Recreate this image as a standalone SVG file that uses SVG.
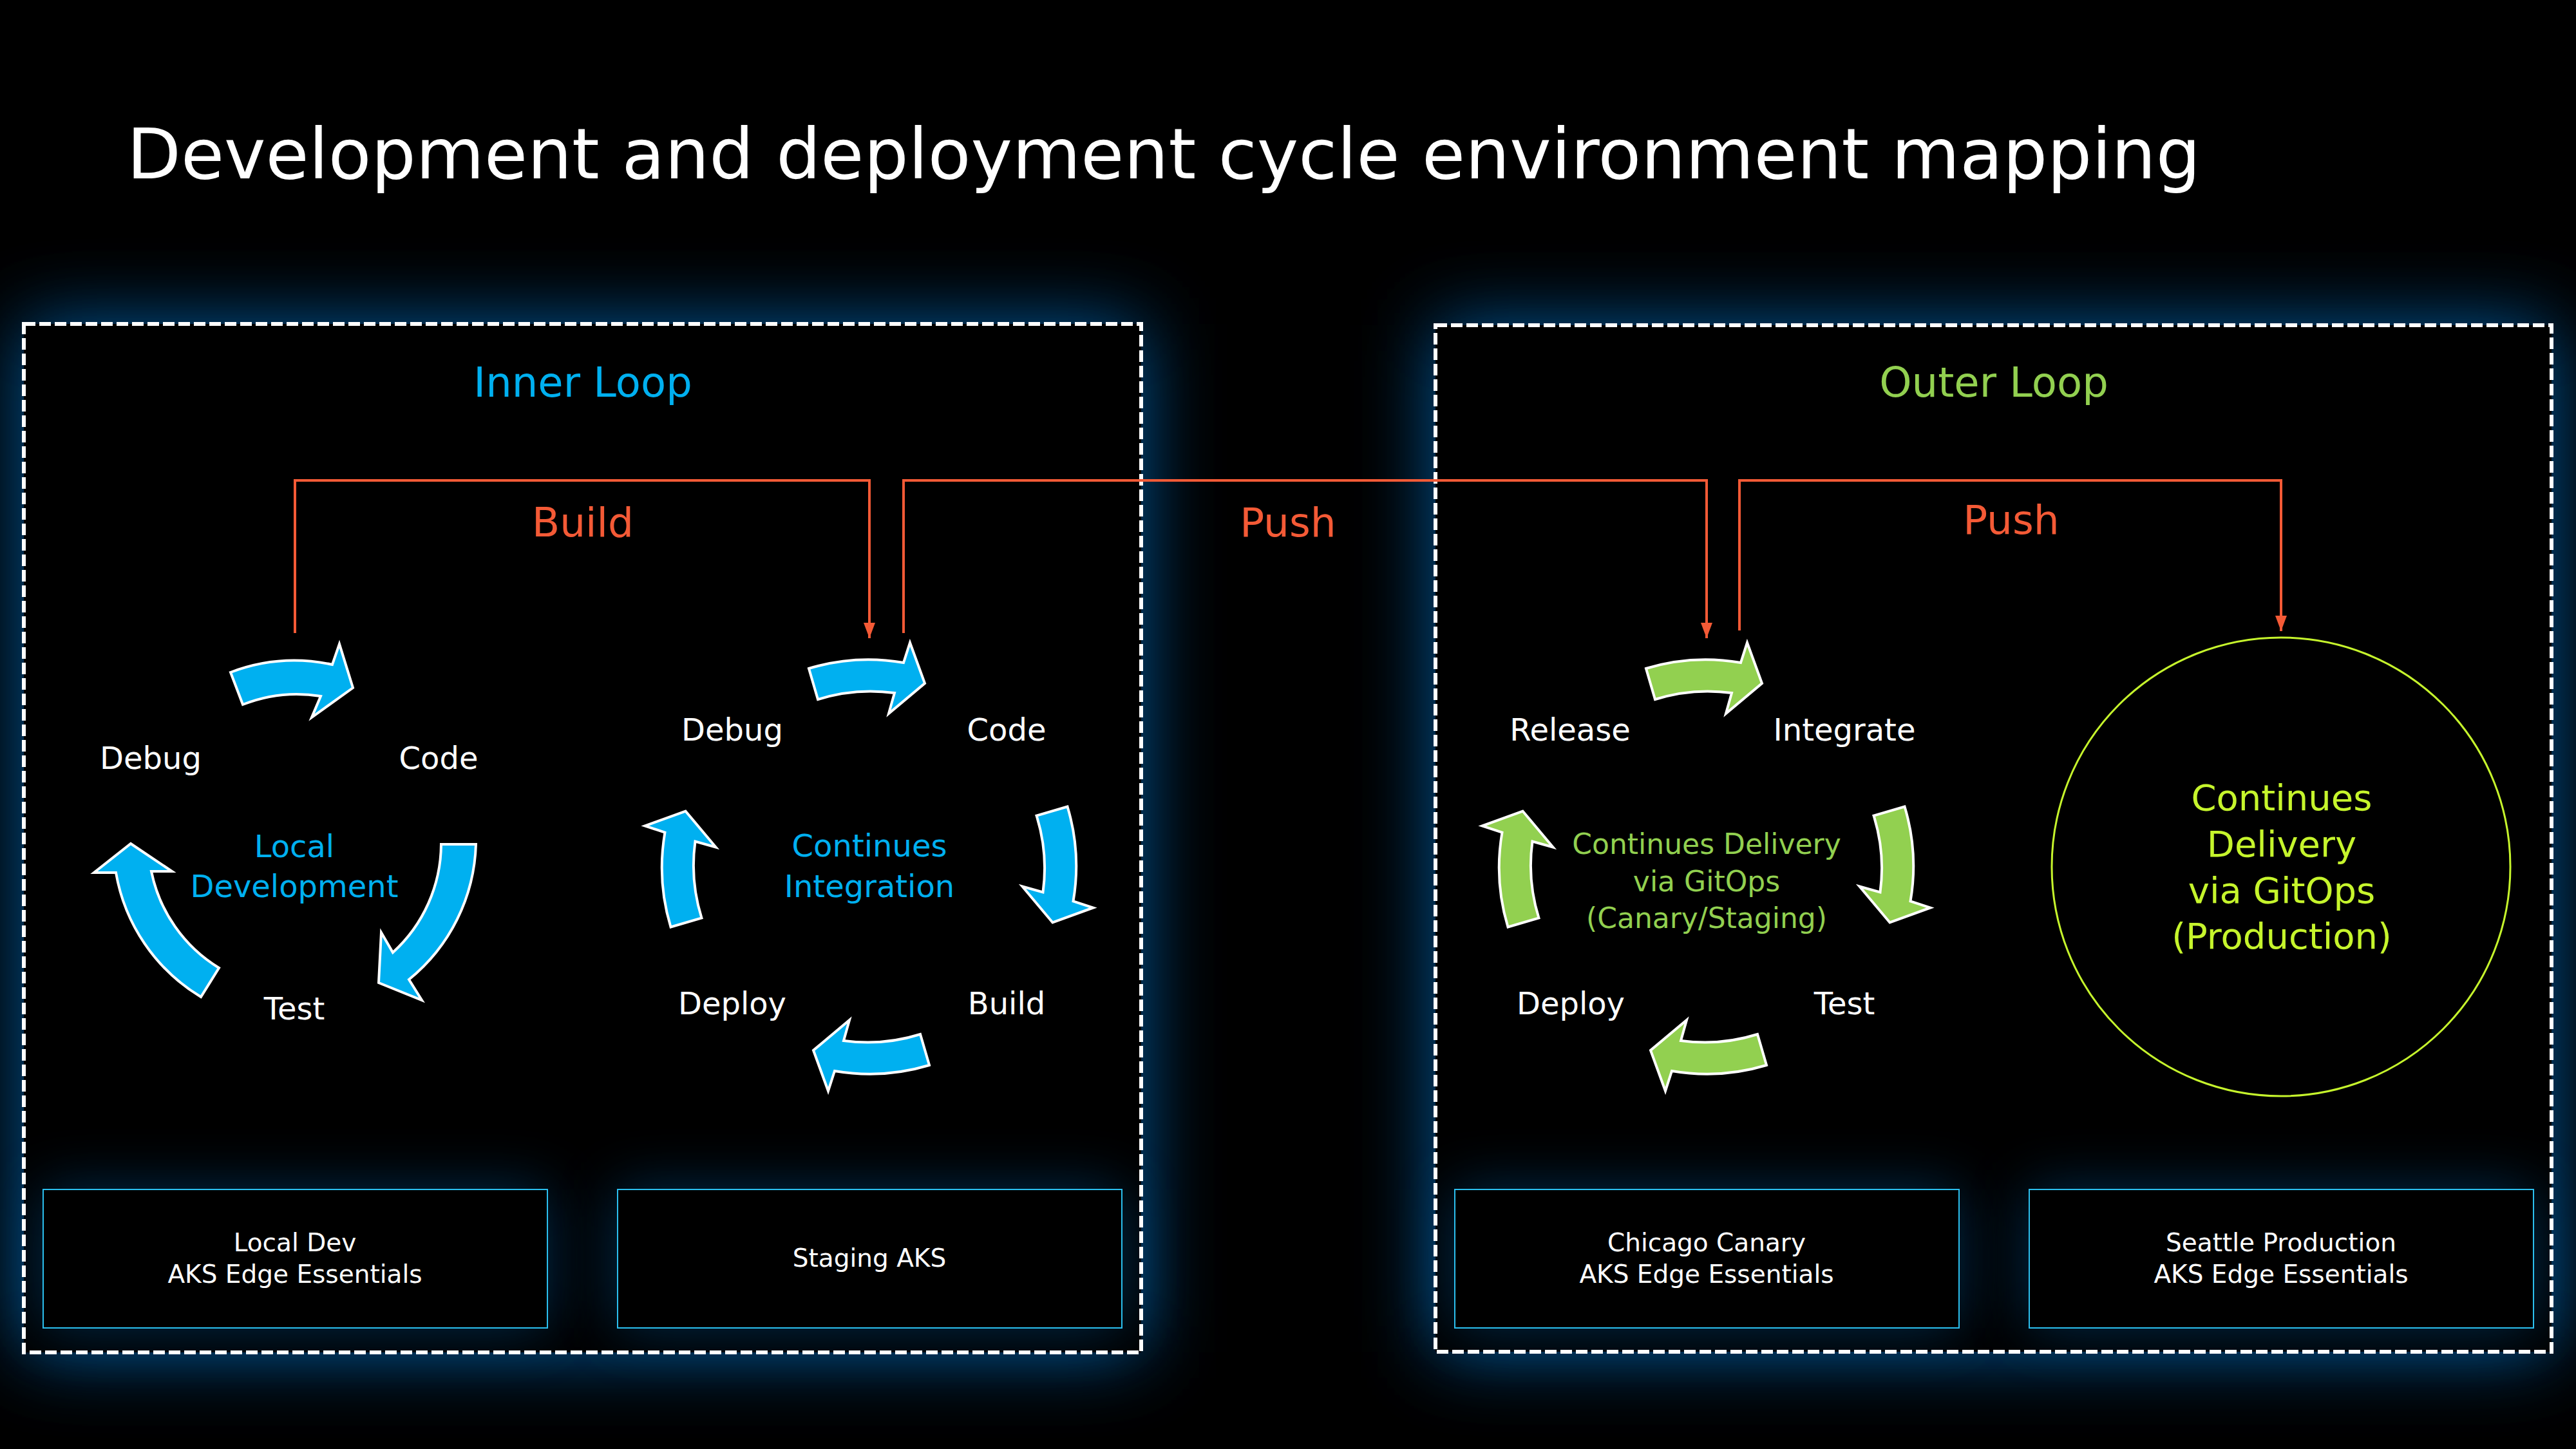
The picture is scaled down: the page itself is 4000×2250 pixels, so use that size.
<svg xmlns="http://www.w3.org/2000/svg" width="4000" height="2250" viewBox="0 0 4000 2250">
<defs>
<style>
text{font-family:"DejaVu Sans","Liberation Sans",sans-serif}
.t{fill:#ffffff;font-size:48px;text-anchor:middle}
.blue{fill:#00b0f0;font-size:48px;text-anchor:middle}
.green{fill:#92d050;font-size:44px;text-anchor:middle}
.lime{fill:#c6f52c;font-size:56px;text-anchor:middle}
.org{fill:#f45a36;font-size:63px;text-anchor:middle}
.loop{font-size:64px;text-anchor:middle}
.env{fill:#000000;stroke:#2bbfee;stroke-width:2}
.envt{fill:#ffffff;font-size:39px;text-anchor:middle}
.dash{fill:none;stroke:#ffffff;stroke-width:6;stroke-dasharray:18 6}
.ba{fill:#00b0f0;stroke:#ffffff;stroke-width:4;stroke-linejoin:miter}
.ga{fill:#92d050;stroke:#ffffff;stroke-width:4;stroke-linejoin:miter}
.conn{fill:none;stroke:#f45a36;stroke-width:4}
.glow{fill:#005a9e;filter:url(#blur)}
.eglow{fill:#005a9e;opacity:0.5;filter:url(#blur2)}
</style>
<filter id="blur" x="-25%" y="-25%" width="150%" height="150%"><feGaussianBlur stdDeviation="60"/></filter>
<filter id="blur2" x="-40%" y="-100%" width="180%" height="300%"><feGaussianBlur stdDeviation="45"/></filter>
<path id="ca" d="M-93.5,-308 A321,321 0 0,1 53.5,-317 L63.5,-348 L86.5,-285 L30.5,-238 L39.5,-270 A273,273 0 0,0 -79.5,-260 Z"/>
<marker id="ah" markerUnits="userSpaceOnUse" markerWidth="24" markerHeight="18" refX="24" refY="9" orient="auto">
<path d="M0,0 L24,9 L0,18 Z" fill="#f45a36"/>
</marker>
</defs>

<rect x="0" y="0" width="4000" height="2250" fill="#000000"/>

<text x="197" y="277" fill="#ffffff" font-size="109">Development and deployment cycle environment mapping</text>

<!-- Inner loop container -->
<g id="inner-loop">
<rect class="glow" x="37" y="503" width="1735" height="1597"/>
<rect x="37" y="503" width="1735" height="1597" fill="#000000"/>
<rect class="eglow" x="67" y="1847" width="783" height="215"/>
<rect class="eglow" x="959" y="1847" width="783" height="215"/>
<text class="loop" x="905" y="616" fill="#00b0f0">Inner Loop</text>
</g>

<!-- Outer loop container -->
<g id="outer-loop">
<rect class="glow" x="2229" y="505" width="1733" height="1594"/>
<rect x="2229" y="505" width="1733" height="1594" fill="#000000"/>
<rect class="eglow" x="2259" y="1847" width="783" height="215"/>
<rect class="eglow" x="3151" y="1847" width="783" height="215"/>
<text class="loop" x="3096" y="616" fill="#92d050">Outer Loop</text>
</g>

<!-- Local development cycle -->
<g id="local-dev-cycle">
<path class="ba" d="M358,1044 A281,281 0 0,1 516,1032 L527,1000 L548,1068 L484,1114 L498,1081 A229,229 0 0,0 377,1094 Z"/>
<path class="ba" d="M739,1311 A281,281 0 0,1 635,1521 L655,1553 L588,1526 L592,1448 L610,1479 A229,229 0 0,0 685,1311 Z"/>
<path class="ba" d="M203,1310 L267,1353 L235,1353 A229,229 0 0,0 340,1503 L312,1548 A281,281 0 0,1 180,1355 L146,1355 Z"/>
<text class="t" x="234" y="1194">Debug</text>
<text class="t" x="681" y="1194">Code</text>
<text class="t" x="457" y="1583">Test</text>
<text class="blue" x="457" y="1331">Local</text>
<text class="blue" x="457" y="1393">Development</text>
</g>

<!-- Continuous integration cycle -->
<g id="ci-cycle">
<use href="#ca" class="ba" transform="translate(1349.5,1346)"/>
<use href="#ca" class="ba" transform="translate(1349.5,1346) rotate(90)"/>
<use href="#ca" class="ba" transform="translate(1349.5,1346) rotate(180)"/>
<use href="#ca" class="ba" transform="translate(1349.5,1346) rotate(270)"/>
<text class="t" x="1137" y="1150">Debug</text>
<text class="t" x="1563" y="1150">Code</text>
<text class="t" x="1137" y="1575">Deploy</text>
<text class="t" x="1563" y="1575">Build</text>
<text class="blue" x="1350" y="1330">Continues</text>
<text class="blue" x="1350" y="1393">Integration</text>
</g>

<!-- Continuous delivery (canary/staging) cycle -->
<g id="cd-cycle">
<use href="#ca" class="ga" transform="translate(2649.5,1346)"/>
<use href="#ca" class="ga" transform="translate(2649.5,1346) rotate(90)"/>
<use href="#ca" class="ga" transform="translate(2649.5,1346) rotate(180)"/>
<use href="#ca" class="ga" transform="translate(2649.5,1346) rotate(270)"/>
<text class="t" x="2438" y="1150">Release</text>
<text class="t" x="2864" y="1150">Integrate</text>
<text class="t" x="2439" y="1575">Deploy</text>
<text class="t" x="2864" y="1575">Test</text>
<text class="green" x="2650" y="1326">Continues Delivery</text>
<text class="green" x="2650" y="1384">via GitOps</text>
<text class="green" x="2650" y="1441">(Canary/Staging)</text>
</g>

<!-- Production circle -->
<g id="production">
<circle cx="3542" cy="1346" r="356" fill="none" stroke="#c6f52c" stroke-width="3"/>
<text class="lime" x="3543" y="1258">Continues</text>
<text class="lime" x="3543" y="1330">Delivery</text>
<text class="lime" x="3543" y="1402">via GitOps</text>
<text class="lime" x="3543" y="1473">(Production)</text>
</g>

<!-- Environment boxes -->
<g id="env-local">
<rect class="env" x="67" y="1847" width="783" height="215"/>
<text class="envt" x="458" y="1943">Local Dev</text>
<text class="envt" x="458" y="1992">AKS Edge Essentials</text>
</g>
<g id="env-staging">
<rect class="env" x="959" y="1847" width="783" height="215"/>
<text class="envt" x="1350" y="1967">Staging AKS</text>
</g>
<g id="env-chicago">
<rect class="env" x="2259" y="1847" width="783" height="215"/>
<text class="envt" x="2650" y="1943">Chicago Canary</text>
<text class="envt" x="2650" y="1992">AKS Edge Essentials</text>
</g>
<g id="env-seattle">
<rect class="env" x="3151" y="1847" width="783" height="215"/>
<text class="envt" x="3542" y="1943">Seattle Production</text>
<text class="envt" x="3542" y="1992">AKS Edge Essentials</text>
</g>

<!-- Dashed outlines -->
<rect class="dash" x="37" y="503" width="1735" height="1597"/>
<rect class="dash" x="2229" y="505" width="1733" height="1594"/>

<!-- Connectors -->
<g id="connectors">
<path class="conn" d="M458,983 V746 H1350 V991" marker-end="url(#ah)"/>
<path class="conn" d="M1403,983 V746 H2650 V991" marker-end="url(#ah)"/>
<path class="conn" d="M2701,979 V746 H3542 V980" marker-end="url(#ah)"/>
<text class="org" x="905" y="833">Build</text>
<text class="org" x="2000" y="833">Push</text>
<text class="org" x="3123" y="829">Push</text>
</g>
</svg>
